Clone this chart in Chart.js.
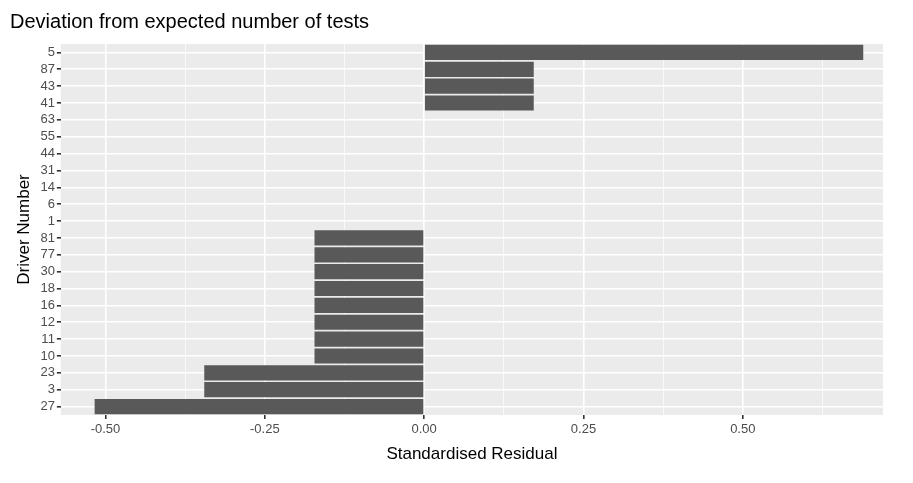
<!DOCTYPE html>
<html><head><meta charset="utf-8">
<script src="https://cdn.jsdelivr.net/npm/chart.js@4/dist/chart.umd.min.js"></script>
<style>html,body{margin:0;background:#fff}#wrap{width:913px;height:483px}</style>
</head><body><div id="wrap"><canvas id="c"></canvas></div>
<script>
const drivers = ['5','87','43','41','63','55','44','31','14','6','1','81','77','30','18','16','12','11','10','23','3','27'];
const residuals = [0.689,0.172,0.172,0.172,0,0,0,0,0,0,0,-0.172,-0.172,-0.172,-0.172,-0.172,-0.172,-0.172,-0.172,-0.345,-0.345,-0.517];
const xTicks = [-0.5,-0.375,-0.25,-0.125,0,0.125,0.25,0.375,0.5,0.625];

const panelBg = {
  id: 'panelBg',
  beforeDraw(chart) {
    const { ctx, chartArea: a } = chart;
    ctx.save(); ctx.fillStyle = '#EBEBEB';
    ctx.fillRect(a.left, a.top, a.right - a.left, a.bottom - a.top);
    ctx.restore();
  }
};
const isMajor = v => Math.abs(Math.round(v / 0.25) * 0.25 - v) < 1e-6;
const font = { family: 'Arial, Liberation Sans, sans-serif' };

new Chart(document.getElementById('c'), {
  type: 'bar',
  data: { labels: drivers, datasets: [{ data: residuals, backgroundColor: '#595959', categoryPercentage: 1, barPercentage: 0.9 }] },
  options: {
    indexAxis: 'y', responsive: true, maintainAspectRatio: false, animation: false,
    layout: { padding: { left: 10, right: 30, top: 4, bottom: 14 } },
    plugins: {
      legend: { display: false }, tooltip: { enabled: false },
      title: { display: true, text: 'Deviation from expected number of tests', align: 'start', color: '#000',
        font: { ...font, size: 20, weight: 'normal' }, padding: { top: 6, bottom: 10 } }
    },
    scales: {
      x: {
        min: -0.57, max: 0.72,
        afterBuildTicks: s => { s.ticks = xTicks.map(v => ({ value: v })); },
        ticks: { color: '#4D4D4D', font: { ...font, size: 13 }, autoSkip: false, maxRotation: 0,
          callback: v => isMajor(v) ? v.toFixed(2) : '' },
        grid: { color: '#fff', lineWidth: c => isMajor(c.tick.value) ? 1.6 : 0.7,
          tickColor: c => isMajor(c.tick.value) ? '#333' : 'rgba(0,0,0,0)', tickLength: 4, drawOnChartArea: true },
        border: { display: false },
        title: { display: true, text: 'Standardised Residual', color: '#000', font: { ...font, size: 17 }, padding: { top: 4 } }
      },
      y: {
        ticks: { color: '#4D4D4D', font: { ...font, size: 13 }, autoSkip: false, padding: 2 },
        grid: { color: '#fff', lineWidth: 1.6, offset: false, tickColor: '#333', tickLength: 4 },
        border: { display: false },
        title: { display: true, text: 'Driver Number', color: '#000', font: { ...font, size: 17 }, padding: { bottom: 4 } }
      }
    }
  },
  plugins: [panelBg]
});
</script></body></html>
